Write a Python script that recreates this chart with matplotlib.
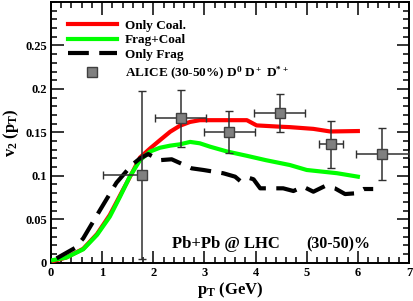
import matplotlib
matplotlib.use("Agg")
import matplotlib.pyplot as plt
from matplotlib.ticker import MultipleLocator
from matplotlib.lines import Line2D

plt.rcParams['font.family'] = ['Liberation Serif', 'DejaVu Serif']
plt.rcParams['font.weight'] = 'bold'
plt.rcParams['mathtext.fontset'] = 'custom'
plt.rcParams['mathtext.rm'] = 'Liberation Serif:bold'
plt.rcParams['mathtext.it'] = 'Liberation Serif:bold'
plt.rcParams['mathtext.bf'] = 'Liberation Serif:bold'

# Only Coal. (red)
coal_x = [0.05, 0.3, 0.63, 0.9, 1.15, 1.4, 1.6, 1.74, 1.94, 2.13, 2.33, 2.52, 2.72, 2.91, 3.2, 3.83, 4.02, 4.48, 4.67, 5.13, 5.46, 6.0]
coal_y = [0.002, 0.006, 0.016, 0.033, 0.055, 0.083, 0.105, 0.121, 0.1316, 0.141, 0.1507, 0.1576, 0.162, 0.164, 0.164, 0.164, 0.158, 0.1565, 0.156, 0.154, 0.151, 0.1515]

# Frag+Coal (green)
fc_x = [0.04, 0.3, 0.63, 0.9, 1.15, 1.35, 1.54, 1.74, 1.94, 2.13, 2.33, 2.52, 2.72, 2.91, 3.11, 3.44, 3.83, 4.2, 4.67, 5.0, 5.59, 6.0]
fc_y = [0.003, 0.006, 0.0154, 0.032, 0.053, 0.076, 0.099, 0.118, 0.128, 0.1323, 0.1347, 0.1362, 0.139, 0.1374, 0.1335, 0.128, 0.123, 0.118, 0.1124, 0.1067, 0.103, 0.099]

# Only Frag (black dashed)
fr_x = [0.11, 0.47, 0.63, 0.96, 1.28, 1.58, 1.74, 1.90, 2.13, 2.36, 2.75, 2.98, 3.37, 3.60, 3.70, 3.86, 3.96, 4.09, 4.54, 4.74, 4.93, 5.13, 5.36, 5.55, 5.75, 5.94, 6.11, 6.30]
fr_y = [0.005, 0.017, 0.028, 0.0607, 0.092, 0.1124, 0.120, 0.125, 0.118, 0.119, 0.1086, 0.1067, 0.1029, 0.099, 0.094, 0.0978, 0.096, 0.0856, 0.0856, 0.0825, 0.0875, 0.0817, 0.0883, 0.0856, 0.079, 0.0798, 0.0848, 0.0848]

# ALICE data
alice_x = [1.77, 2.54, 3.49, 4.47, 5.47, 6.47]
alice_y = [0.101, 0.166, 0.1506, 0.1724, 0.1364, 0.125]
alice_xerr_lo = [0.75, 0.5, 0.5, 0.5, 0.23, 0.5]
alice_xerr_hi = [0.05, 0.5, 0.5, 0.5, 0.23, 0.53]
alice_yerr = [0.097, 0.033, 0.024, 0.022, 0.027, 0.03]

fig = plt.figure(figsize=(4.14, 3.01), dpi=100)
ax = fig.add_axes([51/414, 1 - 262.7/301, (409-51)/414, (262.7-2)/301])

h1, = ax.plot(coal_x, coal_y, color='#ff0000', lw=3, zorder=3)
h2, = ax.plot(fc_x, fc_y, color='#00ff00', lw=3, zorder=3)
h3, = ax.plot(fr_x, fr_y, color='black', lw=3, dashes=(5, 2.5), zorder=3)
ax.errorbar(alice_x, alice_y, xerr=[alice_xerr_lo, alice_xerr_hi], yerr=alice_yerr,
            fmt='s', ms=6.5, mfc='#808080', mec='#404040', mew=1,
            ecolor='#303030', elinewidth=1.1, capsize=3, capthick=1.1, zorder=4)
h4 = Line2D([], [], ls='none', marker='s', ms=6.5, mfc='#808080', mec='#404040', mew=1)

ax.set_xlim(0, 7)
ax.set_ylim(0, 0.3)
ax.xaxis.set_major_locator(MultipleLocator(1))
ax.xaxis.set_minor_locator(MultipleLocator(0.2))
ax.yaxis.set_minor_locator(MultipleLocator(0.01))
ax.set_yticks([0, 0.05, 0.1, 0.15, 0.2, 0.25])
ax.set_yticklabels(['0', '0.05', '0.1', '0.15', '0.2', '0.25'])
ax.tick_params(which='both', direction='in', top=True, right=True, labelsize=9, width=1.1, pad=3)
ax.tick_params(which='major', length=9)
ax.tick_params(which='minor', length=4.5)
for s in ax.spines.values():
    s.set_linewidth(1.4)
for lab in ax.get_xticklabels() + ax.get_yticklabels():
    lab.set_fontweight('bold')

ax.set_xlabel('p$_T$ (GeV)', fontsize=12, fontweight='bold', labelpad=1)
ax.set_ylabel('v$_2$ (p$_T$)', fontsize=12, fontweight='bold', labelpad=3)

ax.text(2.37, 0.017, 'Pb+Pb @ LHC', fontsize=12, fontweight='bold')
ax.text(5.0, 0.017, '(30-50)%', fontsize=11.5, fontweight='bold')

leg = ax.legend([h1, h2, h3],
                ['Only Coal.', 'Frag+Coal', 'Only Frag'],
                loc='upper left', bbox_to_anchor=(0.047, 0.932), frameon=False,
                fontsize=9.5, handlelength=3.7, labelspacing=0.17, handletextpad=0.6,
                borderaxespad=0, borderpad=0)
for t in leg.get_texts():
    t.set_fontweight('bold')
ax.add_artist(leg)
leg2 = ax.legend([h4], ['ALICE (30-50%) D$^0$ D$^+$ D$^{*+}$'],
                 loc='center left', bbox_to_anchor=(0.047, 0.727), frameon=False,
                 fontsize=9.5, handlelength=3.7, handletextpad=0.6,
                 borderaxespad=0, borderpad=0)
for t in leg2.get_texts():
    t.set_fontweight('bold')

fig.savefig('out.png', dpi=100)
